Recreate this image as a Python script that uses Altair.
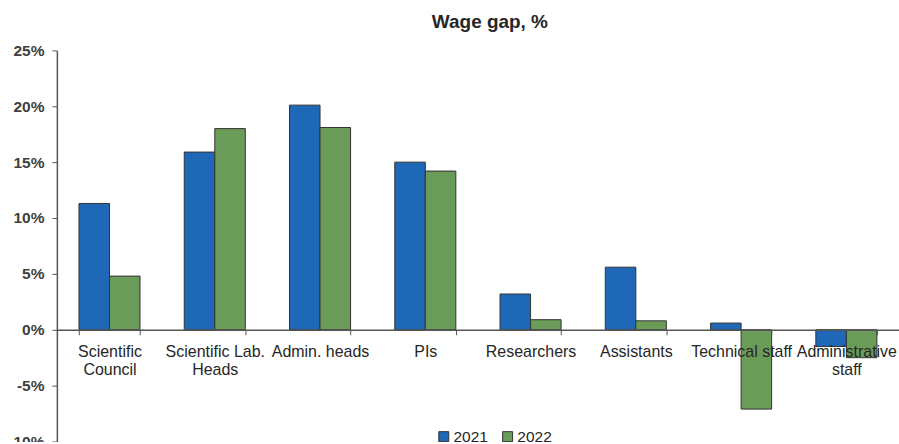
import altair as alt
import pandas as pd

categories = ["Scientific Council", "Scientific Lab. Heads", "Admin. heads", "PIs",
              "Researchers", "Assistants", "Technical staff", "Administrative staff"]
v2021 = [11.3, 15.9, 20.1, 15.0, 3.2, 5.6, 0.6, -1.5]
v2022 = [4.8, 18.0, 18.1, 14.2, 0.9, 0.8, -7.1, -2.5]
years = ["2021", "2022"]
colors = ["#1f67b7", "#6b9b58"]

rows = []
for c, a, b in zip(categories, v2021, v2022):
    rows.append({"cat": c, "year": "2021", "value": a})
    rows.append({"cat": c, "year": "2022", "value": b})
df = pd.DataFrame(rows)

label_expr = ("datum.label == 'Scientific Council' ? ['Scientific','Council'] : "
              "datum.label == 'Scientific Lab. Heads' ? ['Scientific Lab.','Heads'] : "
              "datum.label == 'Administrative staff' ? ['Administrative','staff'] : datum.label")

chart = alt.Chart(df).mark_bar(stroke="#333333", strokeWidth=1).encode(
    x=alt.X("cat:N", sort=categories, title=None,
            scale=alt.Scale(paddingInner=0.42, paddingOuter=0.21),
            axis=alt.Axis(offset=-112, labelAngle=0, labelExpr=label_expr, zindex=1,
                          labelFont="Liberation Sans", labelFontSize=16, labelColor="#262626",
                          labelLimit=0, labelOverlap=False, labelPadding=9, labelLineHeight=18,
                          tickBand="extent", tickSize=5, tickColor="#555555",
                          domainColor="#555555", domainWidth=1.5)),
    xOffset=alt.XOffset("year:N", sort=years),
    y=alt.Y("value:Q", title=None,
            scale=alt.Scale(domain=[-10, 25], nice=False, zero=False),
            axis=alt.Axis(values=[-10, -5, 0, 5, 10, 15, 20, 25], labelExpr="datum.value + '%'",
                          grid=False, labelFont="Liberation Sans", labelFontSize=15.5,
                          labelFontWeight="bold", labelColor="#404040", tickSize=5,
                          tickColor="#555555", domainColor="#555555", domainWidth=1.5,
                          labelPadding=8)),
    color=alt.Color("year:N", sort=years, title=None,
                    scale=alt.Scale(domain=years, range=colors),
                    legend=alt.Legend(orient="none", direction="horizontal",
                                      legendX=380, legendY=379, symbolType="square",
                                      symbolSize=100, symbolStrokeColor="#333333",
                                      symbolStrokeWidth=1, labelFont="Liberation Sans",
                                      labelFontSize=15.5, labelColor="#262626",
                                      columnPadding=12, labelOffset=2)),
).properties(
    width=844, height=392,
    title=alt.Title("Wage gap, %", font="Liberation Sans", fontSize=19, fontWeight="bold",
                    color="#262626", anchor="middle", dx=12, offset=11),
    autosize=alt.AutoSizeParams(type="none"),
    padding={"left": 57, "top": 50, "right": 0, "bottom": 0},
    background="white",
).configure_view(strokeWidth=0, stroke="transparent")

chart.save("out.html", embed_options={"renderer": "svg", "actions": False})
